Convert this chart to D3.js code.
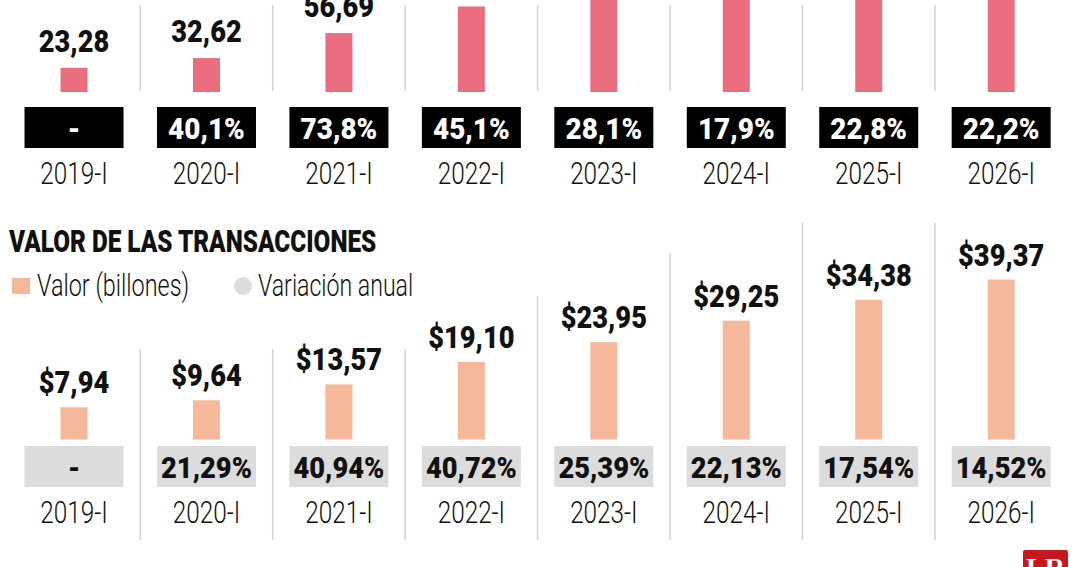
<!DOCTYPE html>
<html>
<head>
<meta charset="utf-8">
<script src="https://cdn.jsdelivr.net/npm/d3@7"></script>
<style>
  html, body { margin: 0; padding: 0; background: #ffffff; }
  svg { display: block; }
  text { font-family: Roboto, "DejaVu Sans Condensed", sans-serif; }
</style>
</head>
<body>
<svg id="chart" width="1080" height="567"></svg>
<script>
// ---- data ----
const periods = ["2019-I", "2020-I", "2021-I", "2022-I", "2023-I", "2024-I", "2025-I", "2026-I"];
// top panel (bars from 2022 on run past the frame; heights estimated from the growth labels)
const countValues = [23.28, 32.62, 56.69, 82.26, 105.37, 124.23, 152.56, 186.42];
const countChange = ["-", "40,1%", "73,8%", "45,1%", "28,1%", "17,9%", "22,8%", "22,2%"];
// bottom panel
const amountValues = [7.94, 9.64, 13.57, 19.10, 23.95, 29.25, 34.38, 39.37];
const amountChange = ["-", "21,29%", "40,94%", "40,72%", "25,39%", "22,13%", "17,54%", "14,52%"];
const gridTops = [22.3, 22.3, 22.3, 35.3, 45.9, 53.3, 53.3]; // upper end of separators, bottom-panel units
const titleText = "VALOR DE LAS TRANSACCIONES";
const legendItems = ["Valor (billones)", "Variación anual"];

// ---- setup ----
const svg = d3.select("#chart");
const loc = d3.formatLocale({decimal: ",", thousands: ".", grouping: [3], currency: ["$", ""]});
const fmt = loc.format(".2f");

const x = d3.scaleBand().domain(periods).range([7.8, 1067.4]);
const cx = p => x(p) + x.bandwidth() / 2;
const barW = 27, boxW = 99;

const yTop = d3.scaleLinear().domain([0, 100]).range([92, -12]);
const yBot = d3.scaleLinear().domain([0, 40]).range([439.5, 277]);

const fn = v => (typeof v === "function" ? v : () => v);
// condensed text helper
function ctext(g, data, o) {
  const fx = fn(o.x), fy = fn(o.y);
  return g.selectAll(null).data(data).join("text")
    .attr("transform", (d, i) => `translate(${fx(d, i)},${fy(d, i)}) scale(${o.sx},1)`)
    .attr("text-anchor", o.anchor || "middle")
    .attr("font-size", o.size)
    .attr("font-weight", o.weight || 400)
    .attr("fill", o.fill || "#111")
    .text(o.text);
}

const gTop = svg.append("g");
const gBot = svg.append("g");

// separators
const seps = periods.slice(1);
gTop.selectAll("line").data(seps).join("line")
  .attr("x1", d => x(d)).attr("x2", d => x(d))
  .attr("y1", 5).attr("y2", 91)
  .attr("stroke", "#d2d2d2").attr("stroke-width", 1.5);
gBot.selectAll("line").data(seps).join("line")
  .attr("x1", d => x(d)).attr("x2", d => x(d))
  .attr("y1", (d, i) => yBot(gridTops[i])).attr("y2", 540)
  .attr("stroke", "#d2d2d2").attr("stroke-width", 1.5);

// ---- top panel ----
gTop.selectAll("rect.bar").data(countValues).join("rect")
  .attr("x", (d, i) => cx(periods[i]) - barW / 2)
  .attr("y", d => yTop(d))
  .attr("width", barW)
  .attr("height", d => yTop(0) - yTop(d))
  .attr("fill", "#eb6e80");
const topLabels = countValues.map((v, i) => ({v, p: periods[i]})).filter(d => yTop(d.v) - 16 > 0);
ctext(gTop, topLabels, {x: d => cx(d.p), y: d => yTop(d.v) - 16, sx: 0.85, size: 32, weight: 900, text: d => fmt(d.v)});
gTop.selectAll("rect.box").data(countChange).join("rect")
  .attr("x", (d, i) => cx(periods[i]) - boxW / 2)
  .attr("y", 107).attr("width", boxW).attr("height", 41)
  .attr("fill", "#000");
ctext(gTop, countChange, {x: (d, i) => cx(periods[i]), y: 138.5, sx: 0.93, size: 30, weight: 900, fill: "#fff", text: d => d});
ctext(gTop, periods, {x: d => cx(d), y: 184, sx: 0.76, size: 32, weight: 300, text: d => d});

// ---- bottom panel ----
ctext(svg, [titleText], {x: 9, y: 252, sx: 0.785, size: 31, weight: 900, anchor: "start", text: d => d});
const leg = svg.append("g");
leg.append("rect").attr("x", 12).attr("y", 278).attr("width", 18).attr("height", 16).attr("fill", "#f6b89a");
ctext(leg, [legendItems[0]], {x: 37, y: 296, sx: 0.755, size: 31, weight: 300, anchor: "start", text: d => d});
leg.append("circle").attr("cx", 243).attr("cy", 286).attr("r", 9).attr("fill", "#dcdcdc");
ctext(leg, [legendItems[1]], {x: 258, y: 296, sx: 0.745, size: 31, weight: 300, anchor: "start", text: d => d});

gBot.selectAll("rect.bar").data(amountValues).join("rect")
  .attr("x", (d, i) => cx(periods[i]) - barW / 2)
  .attr("y", d => yBot(d))
  .attr("width", barW)
  .attr("height", d => yBot(0) - yBot(d))
  .attr("fill", "#f6b89a");
ctext(gBot, amountValues, {x: (d, i) => cx(periods[i]), y: d => yBot(d) - 14, sx: 0.85, size: 32, weight: 900, text: d => "$" + fmt(d)});
gBot.selectAll("rect.box").data(amountChange).join("rect")
  .attr("x", (d, i) => cx(periods[i]) - boxW / 2)
  .attr("y", 446).attr("width", boxW).attr("height", 41)
  .attr("fill", "#dcdcdc");
ctext(gBot, amountChange, {x: (d, i) => cx(periods[i]), y: 477.5, sx: 0.91, size: 30, weight: 900, text: d => d});
ctext(gBot, periods, {x: d => cx(d), y: 523, sx: 0.76, size: 32, weight: 300, text: d => d});

// logo
const logo = svg.append("g");
logo.append("rect").attr("x", 1023).attr("y", 550).attr("width", 45).attr("height", 30).attr("rx", 2).attr("fill", "#c8161d");
logo.append("text").attr("x", 1045.5).attr("y", 577).attr("text-anchor", "middle")
  .style("font-family", "'Liberation Serif', serif").attr("font-weight", "bold")
  .attr("font-size", 28).attr("fill", "#fff").text("LR");
</script>
</body>
</html>
